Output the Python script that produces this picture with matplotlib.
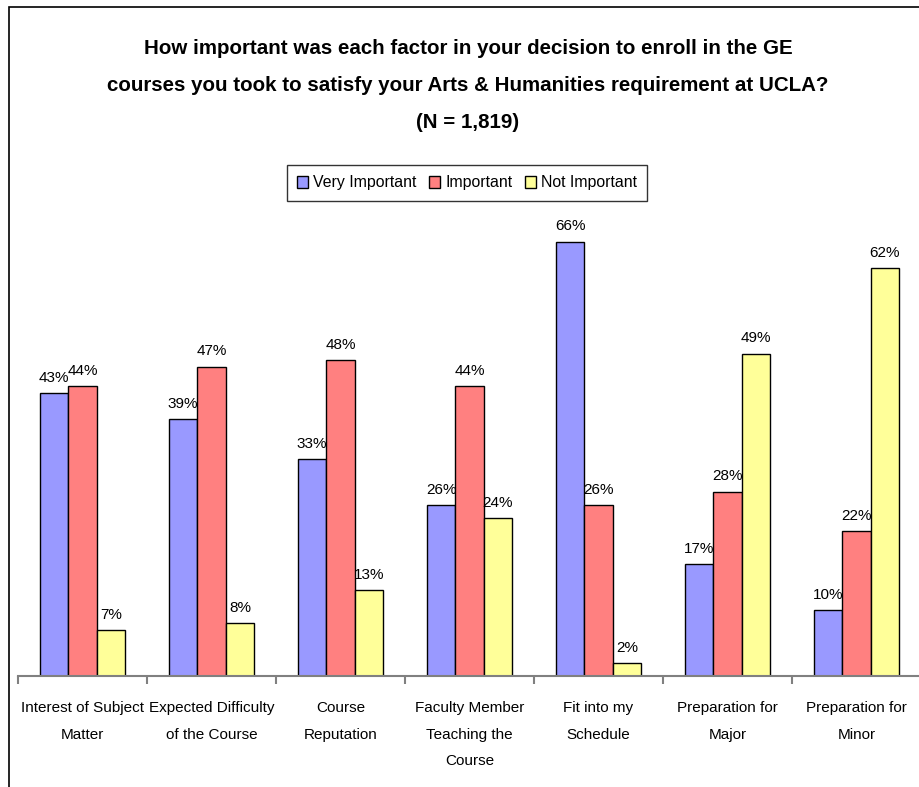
import matplotlib.pyplot as plt
from matplotlib.patches import Rectangle
import numpy as np

categories = ['Interest of Subject\nMatter', 'Expected Difficulty\nof the Course',
              'Course\nReputation', 'Faculty Member\nTeaching the\nCourse',
              'Fit into my\nSchedule', 'Preparation for\nMajor', 'Preparation for\nMinor']
series_names = ['Very Important', 'Important', 'Not Important']
very_important = [43, 39, 33, 26, 66, 17, 10]
important = [44, 47, 48, 44, 26, 28, 22]
not_important = [7, 8, 13, 24, 2, 49, 62]

colors = ['#9999FF', '#FF8080', '#FFFF99']
plt.rcParams['font.family'] = ['Liberation Sans', 'DejaVu Sans']

W, H = 919, 787
fig = plt.figure(figsize=(W / 100, H / 100), dpi=100)

# outer chart frame (runs off the right and bottom edges)
fig.patches.append(Rectangle((9 / W, -0.05), 1.1, 1 - 7 / H + 0.05,
                             transform=fig.transFigure, fill=False,
                             edgecolor='black', linewidth=1.2))

ax = fig.add_axes([18 / W, 1 - 676 / H, (921 - 18) / W, (676 - 215.4) / H])
x = np.arange(len(categories))
bw = 0.22
for i, (vals, name) in enumerate(zip([very_important, important, not_important], series_names)):
    bars = ax.bar(x + (i - 1) * bw, vals, bw, color=colors[i], edgecolor='black',
                  linewidth=1.0, label=name, zorder=2)
    for b, v in zip(bars, vals):
        ax.annotate(f'{v}%', (b.get_x() + b.get_width() / 2, v), xytext=(0, 6),
                    textcoords='offset points', ha='center', va='bottom', fontsize=11)

ax.set_xlim(-0.5, 6.5)
ax.set_ylim(0, 70)
for s in ['left', 'top', 'right']:
    ax.spines[s].set_visible(False)
ax.spines['bottom'].set_color('#808080')
ax.spines['bottom'].set_linewidth(1.5)
ax.set_yticks([])
ax.set_xticks(x)
ax.set_xticklabels(categories, fontsize=11, linespacing=2.15, va='top')
ax.tick_params(axis='x', which='major', length=0, pad=18)
ax.set_xticks(np.arange(-0.5, 7, 1), minor=True)
ax.tick_params(axis='x', which='minor', length=6, width=1.5, color='#808080')

fig.text(468 / W, 1 - 39 / H,
         'How important was each factor in your decision to enroll in the GE\n'
         'courses you took to satisfy your Arts & Humanities requirement at UCLA?\n'
         '(N = 1,819)', ha='center', va='top', fontsize=14.8, fontweight='bold',
         linespacing=2.2)

leg = fig.legend(loc='center', bbox_to_anchor=(467 / W, 1 - 183 / H), ncol=3,
                 fontsize=11.4, frameon=True, fancybox=False, handlelength=0.7,
                 handleheight=0.7, handletextpad=0.3, columnspacing=0.8,
                 borderpad=0.65, borderaxespad=0)
leg.get_frame().set_edgecolor('black')
leg.get_frame().set_linewidth(1.0)

fig.savefig('out.png', dpi=100)
